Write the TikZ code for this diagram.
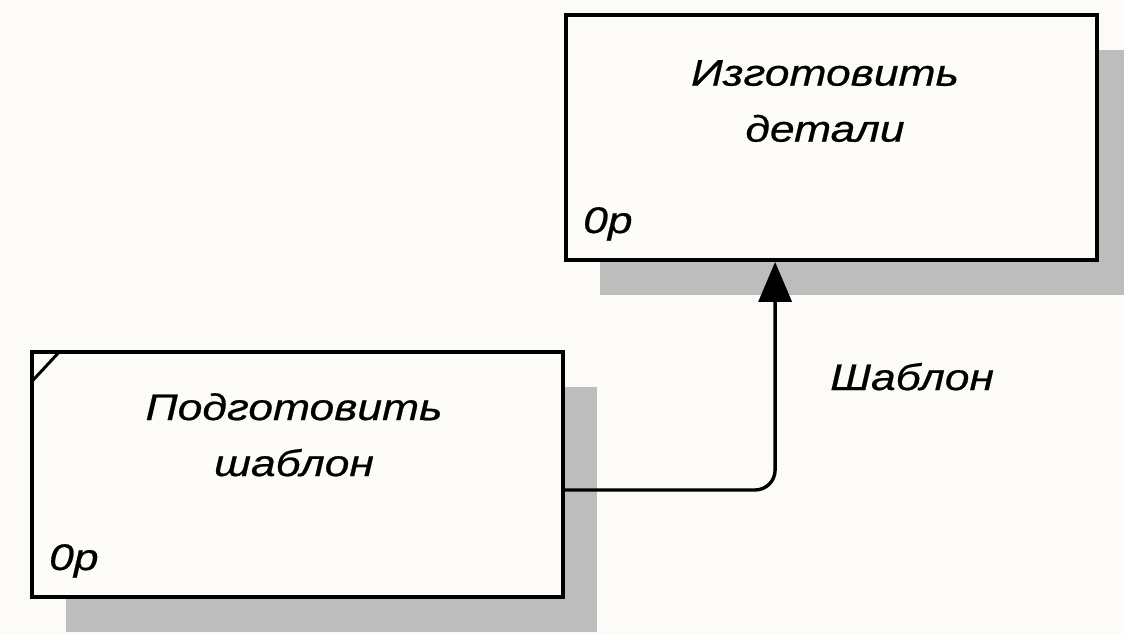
\documentclass[tikz,border=0pt]{standalone}
\usepackage{fontspec}
\setmainfont{Liberation Sans}[FakeStretch=1.2,FakeBold=0.6]
\usetikzlibrary{arrows.meta,shadows,calc}
\definecolor{paper}{HTML}{FDFBF7}
\definecolor{boxfill}{HTML}{FDFCF9}
\definecolor{shade}{HTML}{BDBDBD}
\tikzset{
  proc/.style={draw=black, line width=3.8pt, fill=boxfill, inner sep=0pt,
    minimum width=531pt, minimum height=245pt,
    drop shadow={shadow xshift=34pt, shadow yshift=-35pt, opacity=1, fill=shade}},
  title/.style={font=\fontsize{37}{56}\selectfont\itshape, align=center,
    inner sep=0pt, anchor=north},
  numlbl/.style={font=\fontsize{37}{44}\selectfont\itshape, inner sep=0pt,
    anchor=base west},
  flow/.style={line width=3.4pt, rounded corners=20pt,
    -{Triangle[length=40pt,width=33pt]}}
}
\begin{document}
\begin{tikzpicture}[x=1pt,y=-1pt]
  \fill[paper] (0,0) rectangle (1124,634);
  \useasboundingbox (0,0) rectangle (1124,634);

  % activity boxes
  \node[proc] (b1) at (831.5,137.5) {};
  \node[proc] (b2) at (297.5,474.5) {};

  % corner mark of the second box
  \draw[line width=3pt] ($(b2.north west)+(3,30)$) -- ($(b2.north west)+(29,2)$);

  % box captions
  \node[title] (t1) at (825,60) {Изготовить\\детали};
  \node[title] (t2) at (294,393) {Подготовить\\шаблон};
  \node[numlbl] (n1) at (583,233) {0р};
  \node[numlbl] (n2) at (49,570) {0р};

  % connector with its label
  \draw[flow] ($(b2.east)+(0,15.5)$) -| ($(b1.south west)+(211,0)$);
  \node[numlbl] (lbl) at (830,390) {Шаблон};
\end{tikzpicture}
\end{document}
